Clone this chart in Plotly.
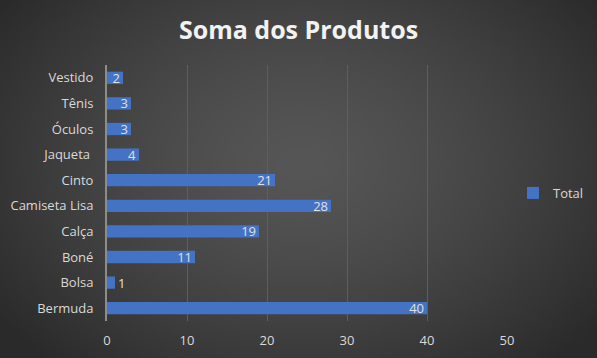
import base64, struct, zlib
import numpy as np
import plotly.graph_objects as go

categories = ["Bermuda", "Bolsa", "Boné", "Calça", "Camiseta Lisa", "Cinto", "Jaqueta ", "Óculos", "Tênis", "Vestido"]
values = [40, 1, 11, 19, 28, 21, 4, 3, 3, 2]
x_ticks = [0, 10, 20, 30, 40, 50]
series_name = "Total"

# radial gradient background image (styling only)
W, H = 200, 120
yy, xx = np.mgrid[0:H, 0:W]
cx, cy = W * 0.5, H * 0.45
r = np.sqrt(((xx - cx) / (W * 0.62)) ** 2 + ((yy - cy) / (H * 0.75)) ** 2)
r = np.clip(r, 0, 1)
c = (0x56 - (0x56 - 0x2a) * r ** 1.4).astype(np.uint8)
img = np.stack([c, c, c], axis=-1)
raw = b"".join(b"\x00" + img[i].tobytes() for i in range(H))
def chunk(t, d):
    return struct.pack(">I", len(d)) + t + d + struct.pack(">I", zlib.crc32(t + d) & 0xffffffff)
png = b"\x89PNG\r\n\x1a\n" + chunk(b"IHDR", struct.pack(">IIBBBBB", W, H, 8, 2, 0, 0, 0)) + \
      chunk(b"IDAT", zlib.compress(raw, 9)) + chunk(b"IEND", b"")
bg_uri = "data:image/png;base64," + base64.b64encode(png).decode()

positions = ["inside" if v > 1 else "outside" for v in values]

PW, PH = 400, 256
fig = go.Figure()
fig.add_trace(go.Bar(
    y=categories, x=values, orientation="h", name=series_name,
    marker=dict(color="#4472C4", line=dict(width=0)),
    text=[str(v) for v in values], textposition=positions, textangle=0,
    insidetextanchor="end", constraintext="none", cliponaxis=False,
    textfont=dict(color="#e0e0e0", size=13, family="Open Sans"),
))

fig.update_layout(
    width=597, height=358,
    margin=dict(l=107, r=90, t=65, b=37, autoexpand=False),
    paper_bgcolor="#3f3f3f", plot_bgcolor="rgba(0,0,0,0)",
    images=[dict(source=bg_uri, xref="paper", yref="paper", x=-110/PW, y=1 + 68/PH,
                 sizex=605/PW, sizey=366/PH, sizing="stretch", xanchor="left", yanchor="top",
                 layer="below")],
    title=dict(text="<b>Soma dos Produtos</b>", x=0.5, xanchor="center", y=0.915, yanchor="middle",
               font=dict(family="Open Sans", size=25, color="#f2f2f2")),
    bargap=0.52,
    showlegend=True,
    legend=dict(x=1.015, y=0.5, xanchor="left", yanchor="middle",
                font=dict(family="Open Sans", size=13, color="#d9d9d9"),
                bgcolor="rgba(0,0,0,0)", itemwidth=30),
    font=dict(family="Open Sans", color="#d9d9d9"),
)
fig.update_xaxes(range=[0, 50], tickvals=x_ticks, showgrid=True, gridcolor="#5e5e5e", gridwidth=1,
                 zeroline=False, showline=False, ticks="", tickfont=dict(size=13, color="#d9d9d9"),
                 ticklabelstandoff=10, automargin=False)
fig.update_yaxes(showline=True, linecolor="#8c8c8c", linewidth=2, ticks="", showgrid=False,
                 tickfont=dict(size=13, color="#d9d9d9"), ticklabelstandoff=9, automargin=False,
                 categoryorder="array", categoryarray=categories)
fig.write_html("out.html", config={"displayModeBar": False},
               post_script="document.body.style.margin='0';document.body.style.overflow='hidden';")
